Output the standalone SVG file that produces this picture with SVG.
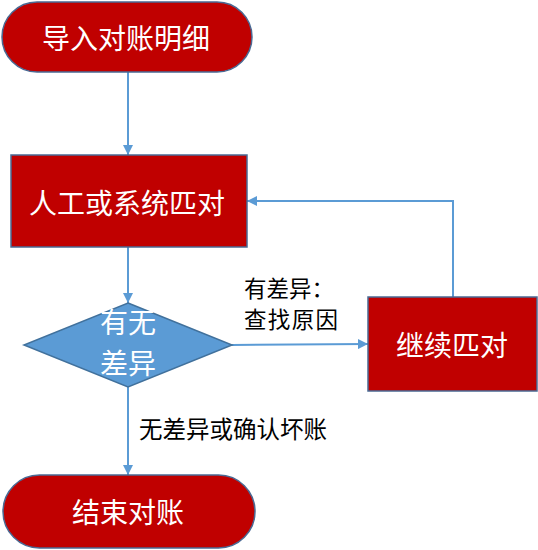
<svg xmlns="http://www.w3.org/2000/svg" width="538" height="550" viewBox="0 0 538 550">
<style>
.term{fill:#C00000;stroke:#4A6A94;stroke-width:1.5}
.box{fill:#C00000;stroke:#4A6A94;stroke-width:1.5}
.dia{fill:#5B9BD5;stroke:#41719C;stroke-width:1.5}
.wt{fill:#FFFFFF;font-family:"Noto Sans CJK SC","Microsoft YaHei",sans-serif;font-size:28px;text-anchor:middle;dominant-baseline:central}
.lb{fill:#000000;font-family:"Noto Sans CJK SC","Microsoft YaHei",sans-serif;font-size:22.5px}
.wide{font-size:23.5px}
.cn{fill:none;stroke:#5B9BD5;stroke-width:2}
</style>
<defs>
<marker id="ah" viewBox="0 0 10 10" refX="10" refY="5" markerWidth="5" markerHeight="5" orient="auto" markerUnits="strokeWidth">
<path d="M0,0 L10,5 L0,10 z" fill="#5B9BD5"/>
</marker>
</defs>
<g id="connectors">
<path class="cn" d="M128,72 L128,155" marker-end="url(#ah)"/>
<path class="cn" d="M128,247 L128,303" marker-end="url(#ah)"/>
<path class="cn" d="M232,345 L368,344" marker-end="url(#ah)"/>
<path class="cn" d="M453,297 L453,201 L247,201" marker-end="url(#ah)"/>
<path class="cn" d="M128,387 L128,475" marker-end="url(#ah)"/>
<text class="lb" x="244" y="297">有差异：</text>
<text class="lb" x="244" y="328" textLength="94">查找原因</text>
<text class="lb wide" x="139" y="438">无差异或确认坏账</text>
</g>
<g id="start">
<rect class="term" x="2" y="2" width="250" height="70" rx="35" ry="35"/>
<text class="wt" x="126" y="37">导入对账明细</text>
</g>
<g id="match">
<rect class="box" x="11" y="155" width="236" height="92"/>
<text class="wt" x="127" y="202">人工或系统匹对</text>
</g>
<g id="decision">
<polygon class="dia" points="128,303 232,345 128,387 24,345"/>
<text class="wt" x="128" y="321">有无</text>
<text class="wt" x="128" y="362">差异</text>
</g>
<g id="continue">
<rect class="box" x="368" y="297" width="169" height="94"/>
<text class="wt" x="452" y="344">继续匹对</text>
</g>
<g id="end">
<rect class="term" x="3" y="475" width="252" height="73" rx="36.5" ry="36.5"/>
<text class="wt" x="128" y="511">结束对账</text>
</g>
</svg>
